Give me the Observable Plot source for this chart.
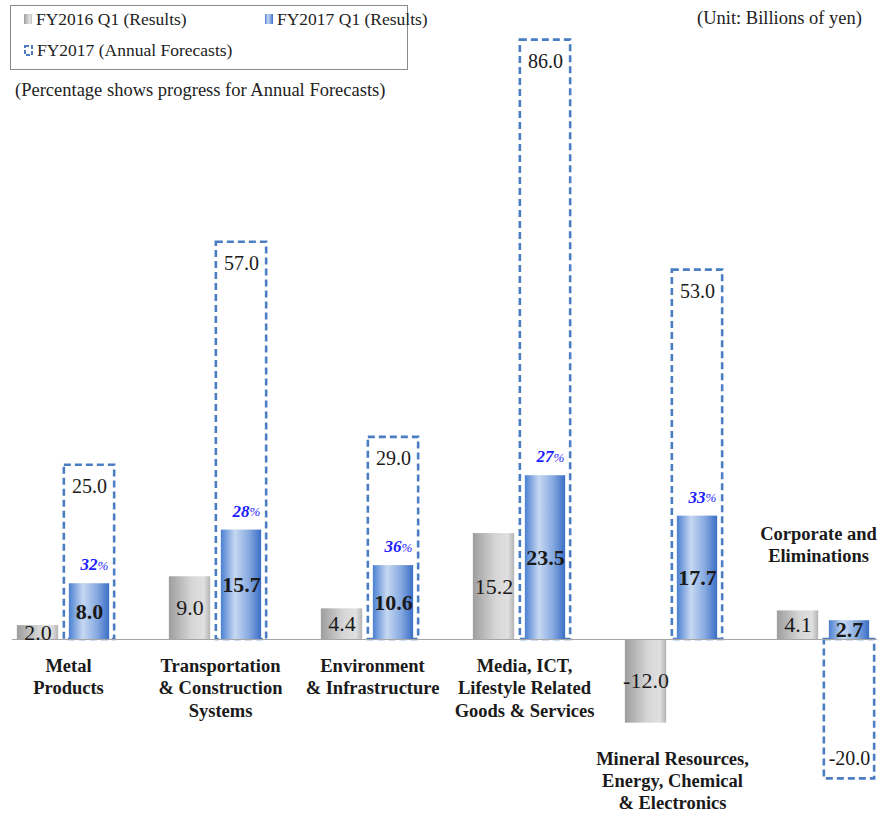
<!DOCTYPE html>
<html>
<head>
<meta charset="utf-8">
<script src="https://cdn.jsdelivr.net/npm/d3@7"></script>
<script src="https://cdn.jsdelivr.net/npm/@observablehq/plot@0.6"></script>
<style>
  body { margin: 0; background: #fff; font-family: "Liberation Serif", serif; }
  #wrap { position: relative; width: 881px; height: 814px; overflow: hidden; }
  #chart { position: absolute; left: 0; top: 0; }
  .legend { position: absolute; left: 10px; top: 5px; width: 398px; height: 65px; border: 1px solid #8a8a8a; box-sizing: border-box; font-size: 17.5px; color: #222; background: #fff; }
  .item { position: absolute; display: flex; align-items: center; white-space: nowrap; height: 20px; }
  .item svg { margin-right: 4px; }
  .note { position: absolute; font-size: 18.5px; color: #222; white-space: nowrap; line-height: 20px; }
</style>
</head>
<body>
<div id="wrap">
  <div id="chart"></div>
  <div class="legend">
    <div class="item" style="left:13px;top:3px">
      <svg width="8" height="10"><rect x="0" y="0" width="8" height="10" fill="url(#greyGrad)"/></svg>FY2016 Q1 (Results)
    </div>
    <div class="item" style="left:254px;top:3px">
      <svg width="8" height="10"><rect x="0" y="0" width="8" height="10" fill="url(#blueGrad)"/></svg>FY2017 Q1 (Results)
    </div>
    <div class="item" style="left:13px;top:34px">
      <svg width="9" height="11"><rect x="1" y="1" width="7" height="9" fill="none" stroke="#4a7dc2" stroke-width="2" stroke-dasharray="4,2"/></svg>FY2017 (Annual Forecasts)
    </div>
  </div>
  <div class="note" style="right:19px;top:8px">(Unit: Billions of yen)</div>
  <div class="note" style="left:15px;top:80px">(Percentage shows progress for Annual Forecasts)</div>
</div>
<script>
// Segment profit, in billions of yen
const categories = [
  "Metal\nProducts",
  "Transportation\n& Construction\nSystems",
  "Environment\n& Infrastructure",
  "Media, ICT,\nLifestyle Related\nGoods & Services",
  "Mineral Resources,\nEnergy, Chemical\n& Electronics",
  "Corporate and\nEliminations"
];
const fy2016Q1 = [2.0, 9.0, 4.4, 15.2, -12.0, 4.1];
const fy2017Q1 = [8.0, 15.7, 10.6, 23.5, 17.7, 2.7];
const fy2017Forecast = [25.0, 57.0, 29.0, 86.0, 53.0, -20.0];
const progressPct = [32, 28, 36, 27, 33, null];

const rows = categories.map((category, i) => ({
  category,
  prev: fy2016Q1[i],
  curr: fy2017Q1[i],
  forecast: fy2017Forecast[i],
  progress: progressPct[i]
}));

// one decimal, plain hyphen for negatives
const fmt = d3.formatLocale({ decimal: ".", thousands: ",", grouping: [3], currency: ["", ""], minus: "-" }).format(".1f");
const serif = "'Liberation Serif', serif";
const ink = "#1a1a1a";

// label placement: under the axis, under a negative bar, or above when the forecast is negative
const belowAxis = rows.filter(d => d.forecast >= 0 && d.prev >= 0 && d.curr >= 0);
const belowBar = rows.filter(d => d.forecast >= 0 && Math.min(d.prev, d.curr) < 0);
const aboveBar = rows.filter(d => d.forecast < 0);

const chart = Plot.plot({
  width: 881,
  height: 814,
  marginLeft: 12,
  marginRight: 4,
  marginTop: 0,
  marginBottom: 0,
  style: { fontFamily: serif, background: "transparent" },
  x: { type: "band", domain: categories, range: [-14.85, 901.35], padding: 0, axis: null },
  y: { domain: [-20, 86], range: [778.4, 39.6], axis: null },
  marks: [
    // annual forecast outline
    Plot.barY(rows, {
      x: "category", y: "forecast", insetLeft: 76.85, insetRight: 24.85,
      fill: "none", stroke: "#4a7dc2", strokeWidth: 2.6, strokeDasharray: "7,4"
    }),
    // FY2016 Q1 results
    Plot.barY(rows, { x: "category", y: "prev", insetLeft: 29.85, insetRight: 80.85, fill: "url(#greyGrad)" }),
    // FY2017 Q1 results
    Plot.barY(rows, { x: "category", y: "curr", insetLeft: 81.85, insetRight: 29.85, fill: "url(#blueGrad)" }),
    Plot.ruleY([0], { stroke: "#a6a6a6", strokeWidth: 1.2 }),

    // value labels
    Plot.text(rows, { x: "category", y: d => d.prev / 2, text: d => fmt(d.prev), dx: -25.5, fontSize: 22, fill: ink, fontFamily: serif }),
    Plot.text(rows, { x: "category", y: d => d.curr / 2, text: d => fmt(d.curr), dx: 26, fontSize: 22, fontWeight: "bold", fill: ink, fontFamily: serif }),
    Plot.text(rows.filter(d => d.forecast >= 0), { x: "category", y: "forecast", text: d => fmt(d.forecast), dx: 26, dy: 21, fontSize: 20, fill: ink, fontFamily: serif }),
    Plot.text(rows.filter(d => d.forecast < 0), { x: "category", y: "forecast", text: d => fmt(d.forecast), dx: 26, dy: -20, fontSize: 20, fill: ink, fontFamily: serif }),

    // progress toward the annual forecast
    Plot.text(rows.filter(d => d.progress != null), { x: "category", y: "curr", text: d => String(d.progress), dx: 34, dy: -19, textAnchor: "end", fontSize: 17, fontStyle: "italic", fontWeight: "bold", fill: "#1d1dff", fontFamily: serif }),
    Plot.text(rows.filter(d => d.progress != null), { x: "category", y: "curr", text: () => "%", dx: 34, dy: -18, textAnchor: "start", fontSize: 13, fontStyle: "italic", fill: "#1d1dff", fontFamily: serif }),

    // segment names
    Plot.text(belowAxis, { x: "category", y: () => 0, text: "category", lineAnchor: "top", dx: 5, dy: 17, lineHeight: 1.2, fontSize: 18.5, fontWeight: "bold", fill: ink, fontFamily: serif }),
    Plot.text(belowBar, { x: "category", y: d => Math.min(d.prev, d.curr), text: "category", lineAnchor: "top", dx: 1, dy: 26, lineHeight: 1.2, fontSize: 18.5, fontWeight: "bold", fill: ink, fontFamily: serif }),
    Plot.text(aboveBar, { x: "category", y: d => Math.max(d.prev, d.curr, 0), text: "category", lineAnchor: "bottom", dx: -5, dy: -49, lineHeight: 1.2, fontSize: 18.5, fontWeight: "bold", fill: ink, fontFamily: serif })
  ]
});

// cylinder-like shading for the bars
const defs = d3.select(chart).insert("defs", ":first-child");
const grey = defs.append("linearGradient").attr("id", "greyGrad").attr("x1", 0).attr("x2", 1).attr("y1", 0).attr("y2", 0);
[[0, "#9e9e9e"], [0.55, "#d6d6d6"], [0.85, "#e0e0e0"], [1, "#b3b3b3"]]
  .forEach(([o, c]) => grey.append("stop").attr("offset", o).attr("stop-color", c));
const blue = defs.append("linearGradient").attr("id", "blueGrad").attr("x1", 0).attr("x2", 1).attr("y1", 0).attr("y2", 0);
[[0, "#4b80d2"], [0.35, "#c6d8f1"], [0.7, "#86a9e0"], [1, "#3a6ec6"]]
  .forEach(([o, c]) => blue.append("stop").attr("offset", o).attr("stop-color", c));

document.getElementById("chart").appendChild(chart);
</script>
</body>
</html>
